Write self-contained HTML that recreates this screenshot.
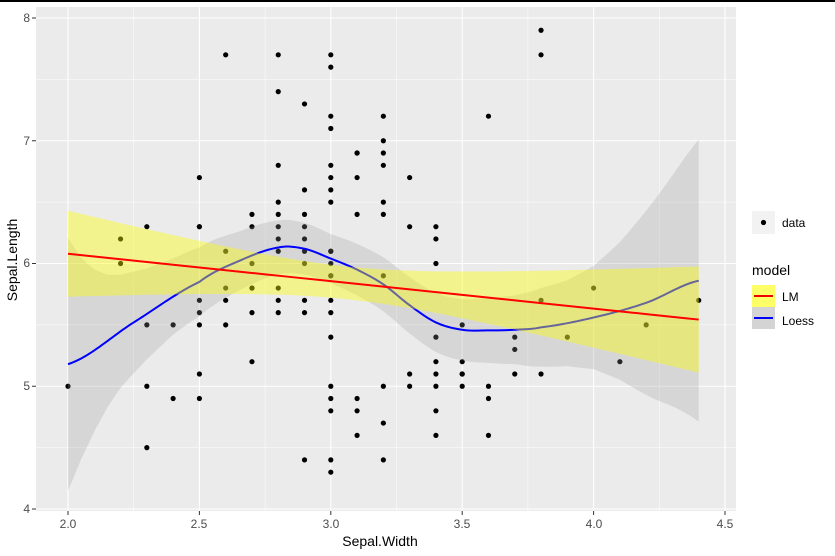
<!DOCTYPE html><html><head><style>body{margin:0;background:#fff}svg{display:block;font-family:"Liberation Sans",Arial,sans-serif}</style></head><body>
<svg id="s" width="835" height="556" xmlns="http://www.w3.org/2000/svg">
<rect x="0" y="0" width="835" height="2" fill="#000"/>
<rect x="36" y="7" width="700" height="504" fill="#ebebeb"/>
<g id="g"></g>
<g font-size="12" fill="#4d4d4d" text-anchor="end">
<text x="30" y="513">4</text><text x="30" y="390">5</text><text x="30" y="267">6</text><text x="30" y="145">7</text><text x="30" y="22">8</text></g>
<g font-size="12" fill="#4d4d4d" text-anchor="middle">
<text x="68" y="528">2.0</text><text x="199" y="528">2.5</text><text x="331" y="528">3.0</text><text x="462" y="528">3.5</text><text x="594" y="528">4.0</text><text x="725" y="528">4.5</text></g>
<text x="380" y="546" font-size="14" text-anchor="middle">Sepal.Width</text>
<text transform="translate(17,260) rotate(-90)" font-size="14" text-anchor="middle">Sepal.Length</text>
<rect x="752" y="211" width="23" height="23" fill="#f2f2f2"/><circle cx="763.5" cy="222.5" r="2.6"/>
<text x="782" y="227" font-size="12">data</text>
<text x="752" y="275" font-size="14">model</text>
<rect x="752" y="285" width="23" height="22" fill="#ffff66"/><line x1="754" x2="773" y1="296" y2="296" stroke="#e00" stroke-width="2"/>
<rect x="752" y="307" width="23" height="22" fill="#d4d4d4"/><line x1="754" x2="773" y1="318" y2="318" stroke="#00f" stroke-width="2"/>
<text x="782" y="301" font-size="12">LM</text><text x="782" y="325" font-size="12">Loess</text>
</svg>
<script>
const X=v=>68+(v-2)*262.8,Y=v=>509-(v-4)*122.75;
const NS="http://www.w3.org/2000/svg",g=document.getElementById('g');
function el(t,a){const e=document.createElementNS(NS,t);for(const k in a)e.setAttribute(k,a[k]);g.appendChild(e);return e}
for(let v=1.75;v<=4.6;v+=0.25){const x=X(v);if(x<36||x>736)continue;el('line',{x1:x,x2:x,y1:7,y2:511,stroke:'#fff','stroke-width':(Math.abs(v*2-Math.round(v*2))<.01)?1.1:0.5})}
for(let v=3.5;v<=8.3;v+=0.5){const y=Y(v);if(y<7||y>511)continue;el('line',{x1:36,x2:736,y1:y,y2:y,stroke:'#fff','stroke-width':(Math.abs(v-Math.round(v))<.01)?1.1:0.5})}
for(let v=2;v<=4.5;v+=0.5)el('line',{x1:X(v),x2:X(v),y1:511,y2:515,stroke:'#333'});
for(let v=4;v<=8;v++)el('line',{x1:32,x2:36,y1:Y(v),y2:Y(v),stroke:'#333'});
const d="5.1 3.5,4.9 3.0,4.7 3.2,4.6 3.1,5.0 3.6,5.4 3.9,4.6 3.4,5.0 3.4,4.4 2.9,4.9 3.1,5.4 3.7,4.8 3.4,4.8 3.0,4.3 3.0,5.8 4.0,5.7 4.4,5.1 3.5,5.7 3.8,5.1 3.8,5.4 3.4,5.1 3.7,4.6 3.6,5.1 3.3,5.0 3.0,5.2 3.5,5.2 3.4,4.8 3.1,5.2 4.1,5.5 4.2,5.0 3.2,5.5 3.5,4.9 3.6,4.4 3.0,5.1 3.4,5.0 3.5,4.5 2.3,4.4 3.2,5.3 3.7,5.0 3.3,7.0 3.2,6.4 3.2,6.9 3.1,5.5 2.3,6.5 2.8,5.7 2.8,6.3 3.3,4.9 2.4,6.6 2.9,5.2 2.7,5.0 2.0,5.9 3.0,6.0 2.2,6.1 2.9,5.6 2.9,6.7 3.1,5.6 3.0,5.8 2.7,6.2 2.2,5.6 2.5,5.9 3.2,6.1 2.8,6.3 2.5,6.4 2.9,6.6 3.0,6.8 2.8,6.7 3.0,6.0 2.9,5.7 2.6,5.5 2.4,6.0 2.7,5.4 3.0,6.0 3.4,6.3 2.3,5.5 2.5,5.5 2.6,6.1 3.0,5.8 2.6,5.0 2.3,5.6 2.7,5.7 3.0,5.7 2.9,6.2 2.9,5.1 2.5,5.8 2.7,7.1 3.0,6.3 2.9,6.5 3.0,7.6 3.0,4.9 2.5,7.3 2.9,6.7 2.5,7.2 3.6,6.5 3.2,6.4 2.7,6.8 3.0,5.7 2.5,5.8 2.8,7.7 3.8,7.7 2.6,6.9 3.2,5.6 2.8,7.7 2.8,6.3 2.7,6.7 3.3,7.2 3.2,6.2 2.8,6.1 3.0,6.4 2.8,7.2 3.0,7.4 2.8,7.9 3.8,6.3 2.8,6.1 2.6,7.7 3.0,6.3 3.4,6.4 3.1,6.0 3.0,6.9 3.1,6.8 3.2,6.2 3.4,6.3 2.5,5.9 3.0";
d.split(',').forEach(p=>{const[l,w]=p.split(' ').map(Number);el('circle',{cx:X(w),cy:Y(l),r:2.6,fill:'#000'})});
// Loess
const C=[[2,5.18],[2.25,5.52],[2.5,5.85],[2.65,6.02],[2.8,6.13],[2.9,6.12],[3.0,6.04],[3.1,5.95],[3.2,5.83],[3.3,5.66],[3.4,5.52],[3.5,5.46],[3.6,5.455],[3.7,5.46],[3.8,5.48],[4.0,5.56],[4.2,5.68],[4.4,5.86]];
const W=[[2,1.03],[2.05,0.82],[2.1,0.66],[2.15,0.54],[2.2,0.46],[2.3,0.37],[2.4,0.31],[2.5,0.28],[2.65,0.24],[2.8,0.22],[3.0,0.2],[3.2,0.22],[3.5,0.25],[3.7,0.28],[3.8,0.32],[3.9,0.35],[4.0,0.42],[4.1,0.56],[4.2,0.75],[4.3,0.94],[4.4,1.15]];
function cr(K,x){for(let k=0;k<K.length-1;k++){if(x<=K[k+1][0]+1e-9){const t=(x-K[k][0])/(K[k+1][0]-K[k][0]);const a=K[Math.max(k-1,0)][1],b=K[k][1],c=K[k+1][1],e=K[Math.min(k+2,K.length-1)][1];return b+0.5*t*(c-a+t*(2*a-5*b+4*c-e+t*(3*(b-c)+e-a)))}}return K[K.length-1][1]}
function lin(K,x){for(let k=0;k<K.length-1;k++){if(x<=K[k+1][0]+1e-9){const t=(x-K[k][0])/(K[k+1][0]-K[k][0]);return K[k][1]+t*(K[k+1][1]-K[k][1])}}return K[K.length-1][1]}
let u2=[],l2=[],c2=[];
for(let x=2;x<=4.401;x+=0.01){const m=cr(C,x),h=lin(W,x);u2.push(X(x)+','+Y(m+h));l2.unshift(X(x)+','+Y(m-h));c2.push(X(x)+','+Y(m))}
el('polygon',{points:u2.concat(l2).join(' '),fill:'#999','fill-opacity':0.25});
el('polyline',{points:c2.join(' '),fill:'none',stroke:'#00f','stroke-width':2});
// LM
let up=[],lo=[],ln=[];
for(let x=2;x<=4.401;x+=0.05){const m=6.5262-0.2234*x,h=1.976*0.8251*Math.sqrt(1/150+(x-3.057)**2/28.31);up.push(X(x)+','+Y(m+h));lo.unshift(X(x)+','+Y(m-h));ln.push(X(x)+','+Y(m))}
el('polygon',{points:up.concat(lo).join(' '),fill:'#ffff00','fill-opacity':0.4});
el('polyline',{points:ln.join(' '),fill:'none',stroke:'#f00','stroke-width':2});
</script>
</body></html>
